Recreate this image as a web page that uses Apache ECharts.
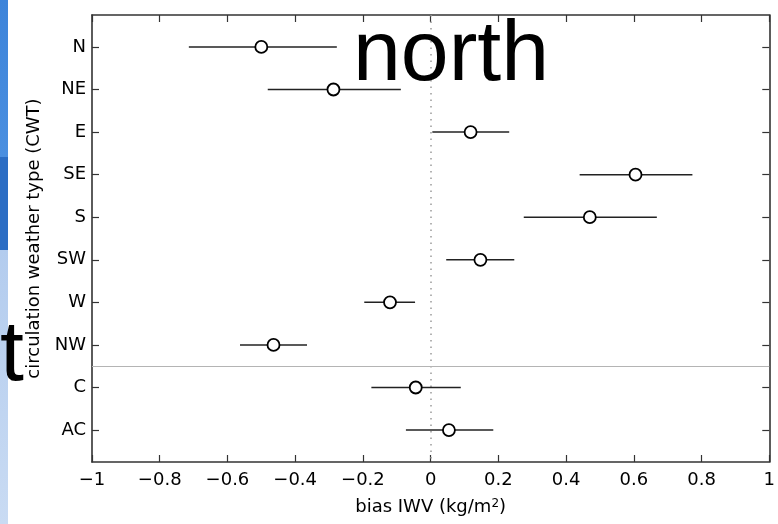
<!DOCTYPE html>
<html>
<head>
<meta charset="utf-8">
<script src="https://cdn.jsdelivr.net/npm/echarts@6/dist/echarts.min.js"></script>
<style>
  html, body { margin: 0; padding: 0; background: #ffffff; }
  #chart { width: 778px; height: 524px; }
</style>
</head>
<body>
<div id="chart"></div>
<script>
// Circulation weather types, listed top to bottom
const categories = ['N', 'NE', 'E', 'SE', 'S', 'SW', 'W', 'NW', 'C', 'AC'];
// Mean IWV bias per type (kg/m2)
const biasMean = [-0.500, -0.287, 0.118, 0.605, 0.470, 0.147, -0.120, -0.464, -0.044, 0.054];
// Lower and upper ends of the uncertainty interval
const biasLow  = [-0.714, -0.481, 0.005, 0.440, 0.275, 0.046, -0.196, -0.563, -0.175, -0.073];
const biasHigh = [-0.277, -0.088, 0.232, 0.773, 0.668, 0.247, -0.046, -0.365, 0.089, 0.185];
// Bottom axis ticks
const xTicks = [-1, -0.8, -0.6, -0.4, -0.2, 0, 0.2, 0.4, 0.6, 0.8, 1];

const slots = categories.map((c, i) => i + 1);
const labelFont = 'DejaVu Sans';
const axisColor = '#333333';

const fmtTick = v => {
  const s = String(Math.round(v * 10) / 10);
  return s.replace('-', '\u2212');
};

const chart = echarts.init(document.getElementById('chart'), null, { renderer: 'canvas' });

const baseX = {
  type: 'value', min: -1, max: 1, interval: 0.2,
  splitLine: { show: false },
  axisLine: { show: true, onZero: false, lineStyle: { color: axisColor, width: 1.6 } },
  axisTick: { show: true, inside: true, length: 7, lineStyle: { color: axisColor, width: 1.2 } }
};
const baseY = {
  type: 'value', min: 0.25, max: 10.75, inverse: true,
  splitLine: { show: false },
  axisLine: { show: true, onZero: false, lineStyle: { color: axisColor, width: 1.6 } },
  axisTick: { show: true, inside: true, length: 7, customValues: slots, lineStyle: { color: axisColor, width: 1.2 } }
};

chart.setOption({
  animation: false,
  backgroundColor: '#ffffff',
  grid: { left: 92, right: 7, top: 15, bottom: 62, containLabel: false },
  xAxis: [
    Object.assign({}, baseX, {
      position: 'bottom',
      axisLabel: {
        show: true, margin: 9, color: '#000', fontFamily: labelFont, fontSize: 18,
        customValues: xTicks, formatter: fmtTick
      },
      name: 'bias IWV (kg/m{sup|2})',
      nameLocation: 'middle',
      nameGap: 36,
      nameTextStyle: {
        color: '#000', fontFamily: labelFont, fontSize: 18,
        rich: { sup: { fontFamily: labelFont, fontSize: 12, color: '#000', verticalAlign: 'top', lineHeight: 10 } }
      }
    }),
    Object.assign({}, baseX, { position: 'top', axisLabel: { show: false } })
  ],
  yAxis: [
    Object.assign({}, baseY, {
      position: 'left',
      axisLabel: {
        show: true, margin: 6, color: '#000', fontFamily: labelFont, fontSize: 18,
        customValues: slots, formatter: v => categories[Math.round(v) - 1] || ''
      },
      name: 'circulation weather type (CWT)',
      nameLocation: 'middle',
      nameGap: 49,
      nameTextStyle: { color: '#000', fontFamily: labelFont, fontSize: 18 }
    }),
    Object.assign({}, baseY, { position: 'right', axisLabel: { show: false } })
  ],
  graphic: [
    // slide background strips on the left edge
    { type: 'rect', left: 0, top: 0, z: -10, shape: { width: 8, height: 157 },
      style: { fill: new echarts.graphic.LinearGradient(0, 0, 0, 1, [
        { offset: 0, color: '#3d84da' }, { offset: 1, color: '#4a8fe0' }]) } },
    { type: 'rect', left: 0, top: 157, z: -10, shape: { width: 8, height: 93 },
      style: { fill: '#2b6dc4' } },
    { type: 'rect', left: 0, top: 250, z: -10, shape: { width: 8, height: 274 },
      style: { fill: new echarts.graphic.LinearGradient(0, 0, 0, 1, [
        { offset: 0, color: '#b3ccee' }, { offset: 1, color: '#c9dbf3' }]) } },
    { type: 'text', x: 24, y: 356, z: 50,
      style: { text: 't', fill: '#000', font: '86px "Liberation Sans"', textAlign: 'right', textVerticalAlign: 'middle' } },
    { type: 'text', x: 353, y: 56, z: 50,
      style: { text: 'north', fill: '#000', font: '86px "Liberation Sans"', textAlign: 'left', textVerticalAlign: 'middle' } }
  ],
  series: [
    {
      type: 'custom',
      z: 3,
      xAxisIndex: 0, yAxisIndex: 0,
      data: categories.map((c, i) => [biasLow[i], biasHigh[i], i + 1]),
      encode: { x: [0, 1], y: 2 },
      renderItem: (params, api) => {
        const p1 = api.coord([api.value(0), api.value(2)]);
        const p2 = api.coord([api.value(1), api.value(2)]);
        return {
          type: 'line',
          shape: { x1: p1[0], y1: p1[1], x2: p2[0], y2: p2[1] },
          style: { stroke: '#222222', lineWidth: 1.5 }
        };
      },
      markLine: {
        silent: true, symbol: 'none', z: 1,
        label: { show: false },
        data: [
          { xAxis: 0, lineStyle: { color: '#9a9a9a', width: 1.5, type: [1.5, 5] } },
          { yAxis: 8.5, lineStyle: { color: '#b4b4b4', width: 1, type: 'solid' } }
        ]
      }
    },
    {
      type: 'scatter',
      z: 4,
      xAxisIndex: 0, yAxisIndex: 0,
      symbol: 'circle',
      symbolSize: 12,
      itemStyle: { color: '#ffffff', borderColor: '#000000', borderWidth: 1.8, opacity: 1 },
      data: categories.map((c, i) => [biasMean[i], i + 1])
    }
  ]
});
</script>
</body>
</html>
